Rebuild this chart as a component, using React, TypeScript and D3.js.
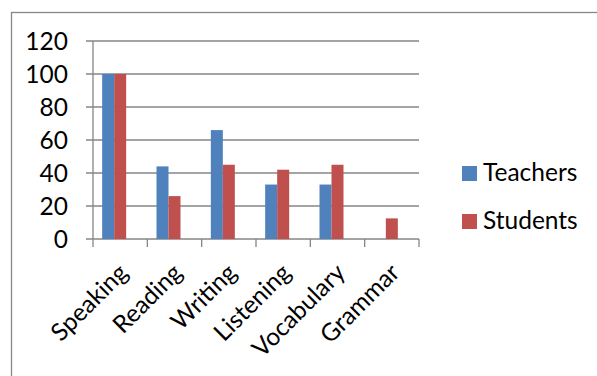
import React from "react";
import * as d3 from "d3";

const categories = ["Speaking", "Reading", "Writing", "Listening", "Vocabulary", "Grammar"];
const seriesNames = ["Teachers", "Students"];
const teachers = [100, 44, 66, 33, 33, 0];
const students = [100, 26, 45, 42, 45, 12.5];
const yTicks = [0, 20, 40, 60, 80, 100, 120];
const colors = ["#4F81BD", "#C0504D"];

const W = 597;
const H = 376;
const FONT = "Lato, 'Open Sans', sans-serif";

export default function App() {
  const left = 93, right = 419, top = 41, bottom = 239;
  const x = d3.scaleBand<string>().domain(categories).range([left, right]).paddingInner(0).paddingOuter(0);
  const y = d3.scaleLinear().domain([0, 120]).range([bottom, top]);
  const barW = 12;
  const series = [teachers, students];
  const grid = "#868686";
  return (
    <svg width={W} height={H} style={{ position: "absolute", left: 0, top: 0, background: "#fff" }} fontFamily={FONT}>
      <rect x={11.5} y={12.5} width={700} height={500} fill="#fff" stroke={grid} strokeWidth={1.3} />
      {yTicks.map((t) => (
        <g key={t}>
          <line x1={left - 7} x2={right} y1={y(t)} y2={y(t)} stroke={grid} strokeWidth={1.3} />
          <text x={68} y={y(t)} dy="0.36em" textAnchor="end" fontSize={24.5} fill="#000">{t}</text>
        </g>
      ))}
      <line x1={left} x2={left} y1={top} y2={bottom} stroke={grid} strokeWidth={1.3} />
      {categories.map((c, i) => (
        <line key={"t" + i} x1={x(c)!} x2={x(c)!} y1={bottom} y2={bottom + 8} stroke={grid} strokeWidth={1.3} />
      ))}
      <line x1={right} x2={right} y1={bottom} y2={bottom + 8} stroke={grid} strokeWidth={1.3} />
      {series.map((vals, s) =>
        categories.map((c, i) => {
          const cx = x(c)! + x.bandwidth() / 2;
          const bx = cx - 18 + s * barW;
          return vals[i] > 0 ? (
            <rect key={s + "-" + i} x={bx} y={y(vals[i])} width={barW} height={bottom - y(vals[i])} fill={colors[s]} />
          ) : null;
        })
      )}
      {categories.map((c) => {
        const cx = x(c)! + x.bandwidth() / 2;
        return (
          <text key={"l" + c} transform={`translate(${cx - 3},${262}) rotate(-45)`} textAnchor="end" dy="0.7em" fontSize={24.5} fill="#000">
            {c}
          </text>
        );
      })}
      {seriesNames.map((n, i) => (
        <g key={n} transform={`translate(462,${166 + i * 48})`}>
          <rect x={0} y={0} width={15} height={15} fill={colors[i]} />
          <text x={21} y={15} fontSize={24.5} fill="#000">{n}</text>
        </g>
      ))}
    </svg>
  );
}
